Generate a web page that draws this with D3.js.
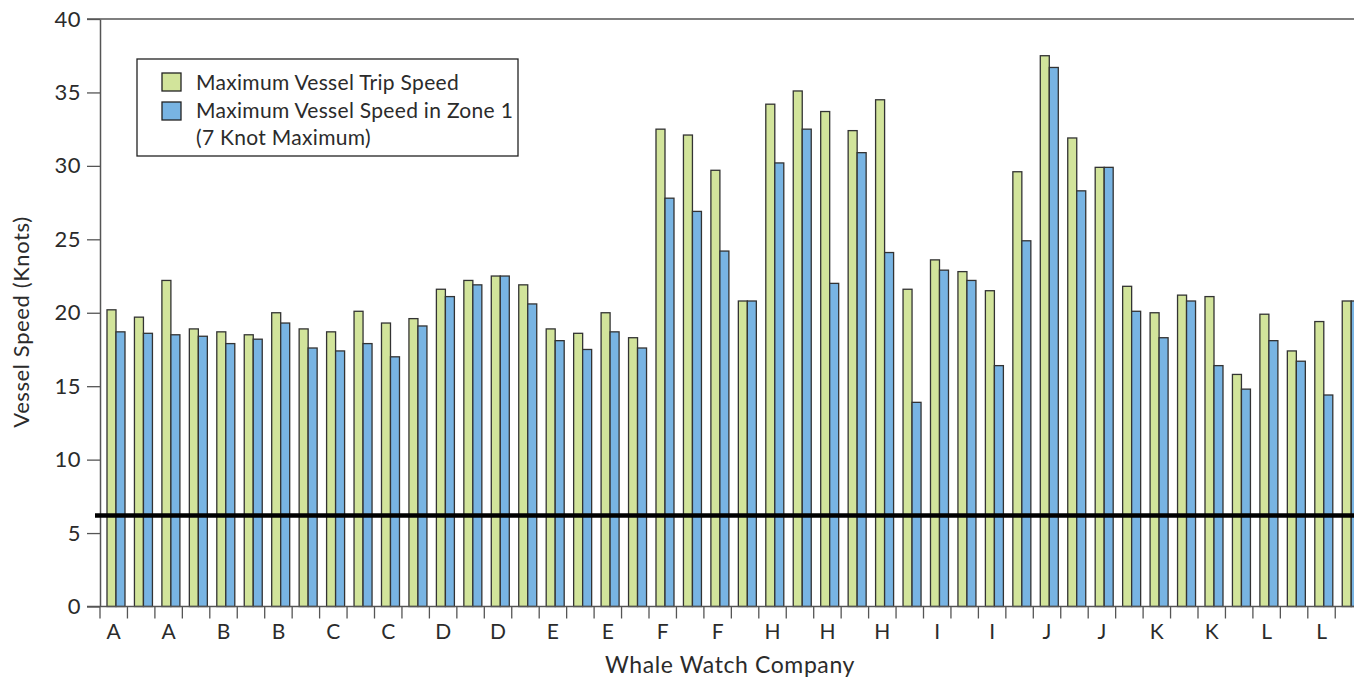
<!DOCTYPE html>
<html>
<head>
<meta charset="utf-8">
<script src="https://cdnjs.cloudflare.com/ajax/libs/d3/7.8.5/d3.min.js"></script>
<style>
  body { margin: 0; background: #fff; }
  text { font-family: Lato, "Open Sans", sans-serif; fill: #2b2b2b; }
</style>
</head>
<body>
<div id="chart"></div>
<script>
var WIDTH = 1354;
var HEIGHT = 679;

// one label under every second trip
var TICK_LABELS = ["A","A","B","B","C","C","D","D","E","E","F","F",
                   "H","H","H","I","I","J","J","K","K","L","L"];

// Maximum Vessel Trip Speed (knots), one per trip
var TRIP_SPEED = [20.2, 19.7, 22.2, 18.9, 18.7, 18.5, 20.0, 18.9, 18.7, 20.1,
                  19.3, 19.6, 21.6, 22.2, 22.5, 21.9, 18.9, 18.6, 20.0, 18.3,
                  32.5, 32.1, 29.7, 20.8, 34.2, 35.1, 33.7, 32.4, 34.5, 21.6,
                  23.6, 22.8, 21.5, 29.6, 37.5, 31.9, 29.9, 21.8, 20.0, 21.2,
                  21.1, 15.8, 19.9, 17.4, 19.4, 20.8];

// Maximum Vessel Speed in Zone 1 (knots)
var ZONE_SPEED = [18.7, 18.6, 18.5, 18.4, 17.9, 18.2, 19.3, 17.6, 17.4, 17.9,
                  17.0, 19.1, 21.1, 21.9, 22.5, 20.6, 18.1, 17.5, 18.7, 17.6,
                  27.8, 26.9, 24.2, 20.8, 30.2, 32.5, 22.0, 30.9, 24.1, 13.9,
                  22.9, 22.2, 16.4, 24.9, 36.7, 28.3, 29.9, 20.1, 18.3, 20.8,
                  16.4, 14.8, 18.1, 16.7, 14.4, 20.8];

var THRESHOLD = 6.2;
var Y_TICKS = [0, 5, 10, 15, 20, 25, 30, 35, 40];
var SERIES = ["trip", "zone"];
var SERIES_NAMES = ["Maximum Vessel Trip Speed", "Maximum Vessel Speed in Zone 1", "(7 Knot Maximum)"];
var COLORS = { trip: "#d2e49b", zone: "#78b4e3" };

var svg = d3.select("#chart").append("svg")
    .attr("width", WIDTH)
    .attr("height", HEIGHT);

var x0 = 100, step = 27.45;
var x = d3.scaleBand()
    .domain(d3.range(TRIP_SPEED.length))
    .range([x0, x0 + step * TRIP_SPEED.length]);

var xSub = d3.scaleBand()
    .domain(SERIES)
    .range([0, x.bandwidth()])
    .paddingInner(0)
    .paddingOuter(0.525)
    .align(0.74);

var y = d3.scaleLinear().domain([0, 40]).range([606.5, 19]);

// top frame line
svg.append("line")
    .attr("x1", 87).attr("x2", WIDTH)
    .attr("y1", y(40)).attr("y2", y(40))
    .attr("stroke", "#555").attr("stroke-width", 1.5);

// bars
var rows = TRIP_SPEED.map((d, i) => ({ i: i, trip: d, zone: ZONE_SPEED[i] }));
var groups = svg.append("g").selectAll("g")
    .data(rows).enter().append("g")
    .attr("transform", d => `translate(${x(d.i)},0)`);

groups.selectAll("rect")
    .data(d => SERIES.map(k => ({ key: k, value: d[k] })))
    .enter().append("rect")
    .attr("x", d => xSub(d.key))
    .attr("y", d => y(d.value))
    .attr("width", xSub.bandwidth())
    .attr("height", d => y(0) - y(d.value))
    .attr("fill", d => COLORS[d.key])
    .attr("stroke", "#333")
    .attr("stroke-width", 1.3);

// y axis
var yAxis = svg.append("g")
    .attr("transform", `translate(${x0},0)`)
    .call(d3.axisLeft(y).tickValues(Y_TICKS).tickSize(13).tickSizeOuter(0).tickPadding(6));
yAxis.select(".domain").attr("stroke", "#555").attr("stroke-width", 1.5);
yAxis.selectAll(".tick line").attr("stroke", "#555").attr("stroke-width", 1.3);
yAxis.selectAll(".tick text").style("font-size", "22px").style("letter-spacing", "0.5px").attr("fill", "#2b2b2b");

// x baseline + ticks at group boundaries
svg.append("line")
    .attr("x1", 87).attr("x2", WIDTH)
    .attr("y1", y(0)).attr("y2", y(0))
    .attr("stroke", "#555").attr("stroke-width", 1.5);

svg.append("g").selectAll("line")
    .data(x.domain())
    .enter().append("line")
    .attr("x1", d => x(d)).attr("x2", d => x(d))
    .attr("y1", y(0)).attr("y2", y(0) + 12)
    .attr("stroke", "#555").attr("stroke-width", 1.3);

svg.append("g").selectAll("text")
    .data(TICK_LABELS)
    .enter().append("text")
    .attr("x", (d, k) => x(k * 2) + x.bandwidth() / 2)
    .attr("y", 639)
    .attr("text-anchor", "middle")
    .style("font-size", "21px")
    .text(d => d);

// 7 knot line
svg.append("line")
    .attr("x1", 95).attr("x2", WIDTH)
    .attr("y1", y(THRESHOLD)).attr("y2", y(THRESHOLD))
    .attr("stroke", "#000").attr("stroke-width", 4.5);

// axis titles
svg.append("text")
    .attr("transform", `translate(29,322) rotate(-90)`)
    .attr("text-anchor", "middle")
    .style("font-size", "22px")
    .style("letter-spacing", "0.6px")
    .text("Vessel Speed (Knots)");

svg.append("text")
    .attr("x", 730).attr("y", 673)
    .attr("text-anchor", "middle")
    .style("font-size", "23px")
    .style("letter-spacing", "0.6px")
    .text("Whale Watch Company");

// legend
var legend = svg.append("g");
legend.append("rect")
    .attr("x", 137).attr("y", 59)
    .attr("width", 381).attr("height", 97)
    .attr("fill", "#fff").attr("stroke", "#222").attr("stroke-width", 1.3);

legend.selectAll(".sw")
    .data(SERIES)
    .enter().append("rect")
    .attr("class", "sw")
    .attr("x", 162).attr("y", (d, i) => 73 + i * 29)
    .attr("width", 19).attr("height", 18)
    .attr("fill", d => COLORS[d])
    .attr("stroke", "#222").attr("stroke-width", 1.3);

legend.selectAll(".lt")
    .data(SERIES_NAMES)
    .enter().append("text")
    .attr("class", "lt")
    .attr("x", 196).attr("y", (d, i) => 90 + i * 27.5)
    .style("font-size", "21px")
    .style("letter-spacing", "0.3px")
    .text(d => d);
</script>
</body>
</html>
